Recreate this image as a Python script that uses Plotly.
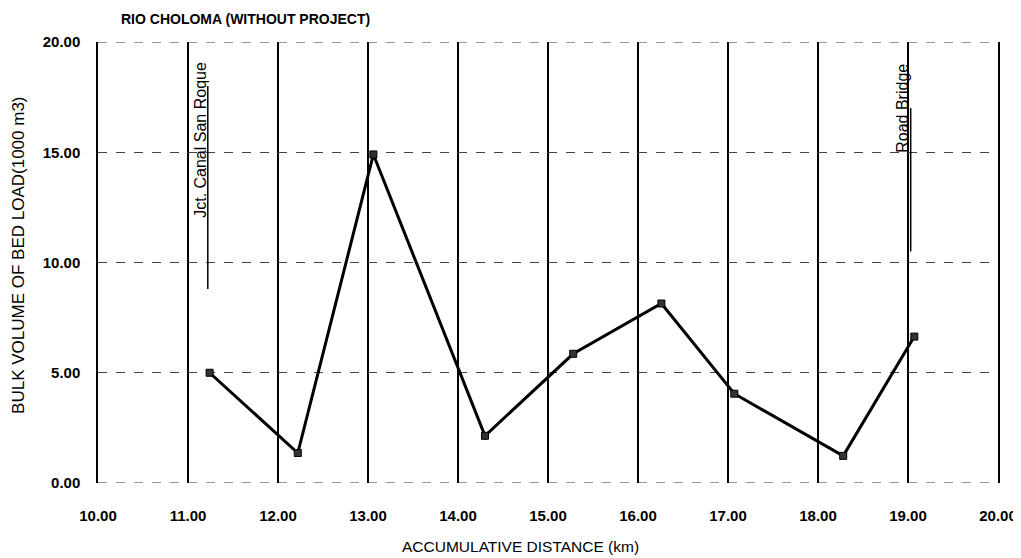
import plotly.graph_objects as go

# Data
distance_km = [11.24, 12.22, 13.06, 14.30, 15.28, 16.26, 17.07, 18.28, 19.07]
bed_load = [5.0, 1.36, 14.9, 2.14, 5.86, 8.14, 4.05, 1.23, 6.64]

x_ticks = [10, 11, 12, 13, 14, 15, 16, 17, 18, 19, 20]
y_ticks = [0, 5, 10, 15, 20]

# Location markers (label, text x, text y-center, leader x, leader y0, leader y1)
loc_labels = ["Jct. Canal San Roque", "Road Bridge"]
loc_text_x = [11.13, 18.94]
loc_text_y = [15.55, 17.0]
loc_line_x = [11.22, 19.03]
loc_line_y0 = [8.8, 10.5]
loc_line_y1 = [18.0, 17.0]

FONT = "Liberation Sans, Arial, sans-serif"

fig = go.Figure()
fig.add_trace(go.Scatter(
    x=distance_km, y=bed_load, mode="lines+markers",
    line=dict(color="black", width=3),
    marker=dict(symbol="square", size=7, color="#333", line=dict(color="black", width=1)),
    showlegend=False,
))

for i, lab in enumerate(loc_labels):
    fig.add_shape(type="line", xref="x", yref="y",
                  x0=loc_line_x[i], x1=loc_line_x[i],
                  y0=loc_line_y0[i], y1=loc_line_y1[i],
                  line=dict(color="black", width=1.5))
    fig.add_annotation(x=loc_text_x[i], y=loc_text_y[i], xref="x", yref="y",
                       text=lab, textangle=-90, showarrow=False,
                       font=dict(family=FONT, size=16, color="black"))

# dashed top and bottom frame lines
for yv in (y_ticks[0], y_ticks[-1]):
    fig.add_shape(type="line", xref="paper", yref="y", x0=0, x1=1, y0=yv, y1=yv,
                  line=dict(color="#333", width=1.2, dash="dash"))

# axis titles as annotations
fig.add_annotation(text="ACCUMULATIVE DISTANCE (km)", xref="paper", yref="paper",
                   x=0.469, y=-0.145, showarrow=False, xanchor="center", yanchor="middle",
                   font=dict(family=FONT, size=15.5, color="black"))
fig.add_annotation(text="BULK VOLUME OF BED LOAD(1000 m3)", xref="paper", yref="paper",
                   x=-0.089, y=0.517, showarrow=False, textangle=-90,
                   xanchor="center", yanchor="middle",
                   font=dict(family=FONT, size=17, color="black"))

fig.update_layout(
    width=1021, height=558,
    margin=dict(l=90, r=31, t=34, b=83),
    paper_bgcolor="white", plot_bgcolor="white",
    title=dict(text="RIO CHOLOMA (WITHOUT PROJECT)", x=113/1021, xanchor="left",
               y=1-11/558, yanchor="middle",
               font=dict(family=FONT, size=14, color="black", weight="bold")),
    font=dict(family=FONT, size=12, color="black"),
)
fig.update_xaxes(
    range=[10, 20], tickvals=x_ticks, ticktext=[f"{v:.2f}" for v in x_ticks],
    showgrid=True, gridcolor="black", gridwidth=1.5,
    showline=False, zeroline=False, ticks="",
    ticklabelstandoff=22,
    tickfont=dict(family=FONT, size=15, color="black", weight="bold"),
)
fig.update_yaxes(
    range=[0, 20], tickvals=y_ticks, ticktext=[f"{v:.2f}" for v in y_ticks],
    showgrid=True, gridcolor="#444", gridwidth=1, griddash="dash",
    showline=True, linecolor="black", linewidth=1.5, mirror=True,
    zeroline=False, ticks="",
    ticklabelstandoff=13,
    tickfont=dict(family=FONT, size=15, color="black", weight="bold"),
)

fig.write_html("out.html")
